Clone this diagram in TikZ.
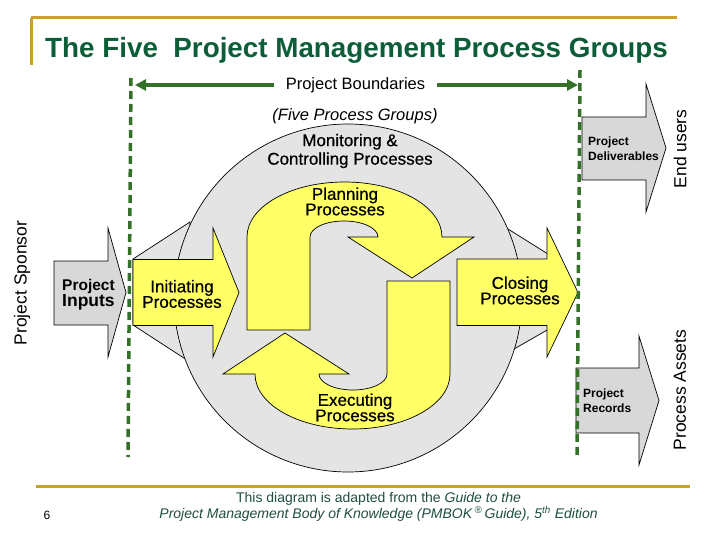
\documentclass[tikz,border=0pt]{standalone}
\usepackage{fontspec}
\setmainfont{Liberation Sans}
\newfontfamily\medfont[FakeBold=0.6]{Liberation Sans}
\usetikzlibrary{arrows.meta}
\definecolor{titlegreen}{RGB}{12,94,56}
\definecolor{gold}{RGB}{201,160,40}
\definecolor{dashgreen}{RGB}{52,112,40}
\definecolor{circgrey}{RGB}{228,228,228}
\definecolor{arrgrey}{RGB}{216,216,216}
\definecolor{pyellow}{RGB}{255,255,102}
\definecolor{notegreen}{RGB}{30,80,60}
\begin{document}
\begin{tikzpicture}[x=1pt,y=-1pt,
  outl/.style={draw=black,line width=0.7pt,line join=miter},
  yel/.style={outl,fill=pyellow},
  gry/.style={outl,fill=arrgrey},
  lbl/.style={font=\medfont\fontsize{17}{15.5}\selectfont,align=center,inner sep=0pt},
  smalllbl/.style={font=\fontsize{12}{15}\selectfont\bfseries,align=left,inner sep=0pt,anchor=west},
  side/.style={font=\fontsize{17.5}{20}\selectfont,rotate=90,inner sep=0pt},
  boundary/.style={draw=dashgreen,line width=3.5pt,dash pattern=on 8pt off 5pt},
  goldline/.style={draw=gold,line width=3pt},
  bndarrow/.style={draw=dashgreen,line width=3.5pt,-{Triangle[length=11pt,width=11pt]}}
]
\useasboundingbox (0,0) rectangle (720,540);
\fill[white] (0,0) rectangle (720,540);

% gold frame lines
\draw[goldline] (31,18) -- (677,18);
\draw[goldline] (31,18) -- (31,65);
\draw[goldline] (36,486) -- (690,486);

% title
\node[anchor=base west,inner sep=0pt,text=titlegreen,font=\fontsize{27.8}{30}\selectfont\bfseries] (title) at (45,58) {The Five~ Project Management Process Groups};

% grey wings behind initiating / closing
\path[outl,fill=circgrey] (133,259) -- (190,222) -- (190,362) -- (133,325) -- cycle;
\path[outl,fill=circgrey] (500,224) -- (556,259) -- (556,325) -- (500,357) -- cycle;

% big circle
\path[outl,fill=circgrey] (348,298) circle[radius=174];

% yellow S (planning, executing)
\path[yel] (247,330) -- (310,330) -- (310,237)
  .. controls (310,228.2) and (325.2,221) .. (344,221)
  .. controls (362.8,221) and (378,228.2) .. (378,237)
  -- (348,237) -- (412,278) -- (474,237) -- (442,237)
  .. controls (442,206.6) and (398.4,182) .. (344.5,182)
  .. controls (290.6,182) and (247,206.6) .. (247,237) -- cycle;
\begin{scope}[rotate around={180:(348.5,305.5)}]
\path[yel] (247,330) -- (310,330) -- (310,237)
  .. controls (310,228.2) and (325.2,221) .. (344,221)
  .. controls (362.8,221) and (378,228.2) .. (378,237)
  -- (348,237) -- (412,278) -- (474,237) -- (442,237)
  .. controls (442,206.6) and (398.4,182) .. (344.5,182)
  .. controls (290.6,182) and (247,206.6) .. (247,237) -- cycle;
\end{scope}

% initiating and closing arrows
\path[yel] (133,259.5) -- (213,259.5) -- (213,228) -- (239,292.5) -- (213,357) -- (213,325.5) -- (133,325.5) -- cycle;
\path[yel] (457,259) -- (547,259) -- (547,228) -- (578,292.5) -- (547,357) -- (547,325.5) -- (457,325.5) -- cycle;

% grey arrows
\path[gry] (54,261) -- (108,261) -- (108,228) -- (126,292.5) -- (108,357) -- (108,325) -- (54,325) -- cycle;
\path[gry] (582,117) -- (646,117) -- (646,84) -- (666,148) -- (646,212) -- (646,180) -- (582,180) -- cycle;
\path[gry] (576,368) -- (639,368) -- (639,336) -- (659,400.5) -- (639,465) -- (639,433) -- (576,433) -- cycle;

% dashed project boundaries
\coordinate (dl1) at (131,78);
\coordinate (dl2) at (128,457);
\coordinate (dr1) at (580,70);
\coordinate (dr2) at (577,457);
\draw[boundary] (dl1) -- (dl2);
\draw[boundary] (dr1) -- (dr2);

% project boundaries arrow
\coordinate (bl) at (135,85);
\coordinate (br) at (578,85);
\node[font=\fontsize{16.5}{18}\selectfont,fill=white,inner xsep=12pt,inner ysep=1pt] (pb) at (355.5,85) {Project Boundaries};
\draw[bndarrow] (pb.west) -- (bl);
\draw[bndarrow] (pb.east) -- (br);

% labels
\node[font=\fontsize{16.5}{18}\selectfont\itshape,inner sep=0pt] (fpg) at (355,116) {(Five Process Groups)};
\node[lbl,font=\medfont\fontsize{17}{18.5}\selectfont] (mon) at (350,151) {Monitoring \&\\Controlling Processes};
\node[lbl] (plan) at (345,201.5) {Planning\\Processes};
\node[lbl] (init) at (182,294) {Initiating\\Processes};
\node[lbl] (close) at (520,290.5) {Closing\\Processes};
\node[lbl] (exec) at (355,407.5) {Executing\\Processes};

\node[inner sep=0pt,align=left,anchor=west] (inputs) at (62,294.5)
  {{\fontsize{15.5}{19}\selectfont\bfseries Project}\\{\fontsize{17.5}{19}\selectfont\bfseries Inputs}};
\node[smalllbl] (deliv) at (588,149) {Project\\Deliverables};
\node[smalllbl] (records) at (583,400.5) {Project\\Records};

\node[side] (sponsor) at (22,283) {Project Sponsor};
\node[side] (endusers) at (680,149) {End users};
\node[side] (assets) at (680,390) {Process Assets};

% footnote
\node[align=center,inner sep=0pt,text=notegreen,font=\fontsize{14}{15}\selectfont] (note) at (378.5,507)
  {This diagram is adapted from the \textit{Guide to the}\\
   \textit{Project Management Body of Knowledge (PMBOK\,\textsuperscript{®}\,Guide), 5\textsuperscript{th} Edition}};
\node[inner sep=0pt,font=\fontsize{12}{14}\selectfont] (pagenum) at (47,515) {6};
\end{tikzpicture}
\end{document}
